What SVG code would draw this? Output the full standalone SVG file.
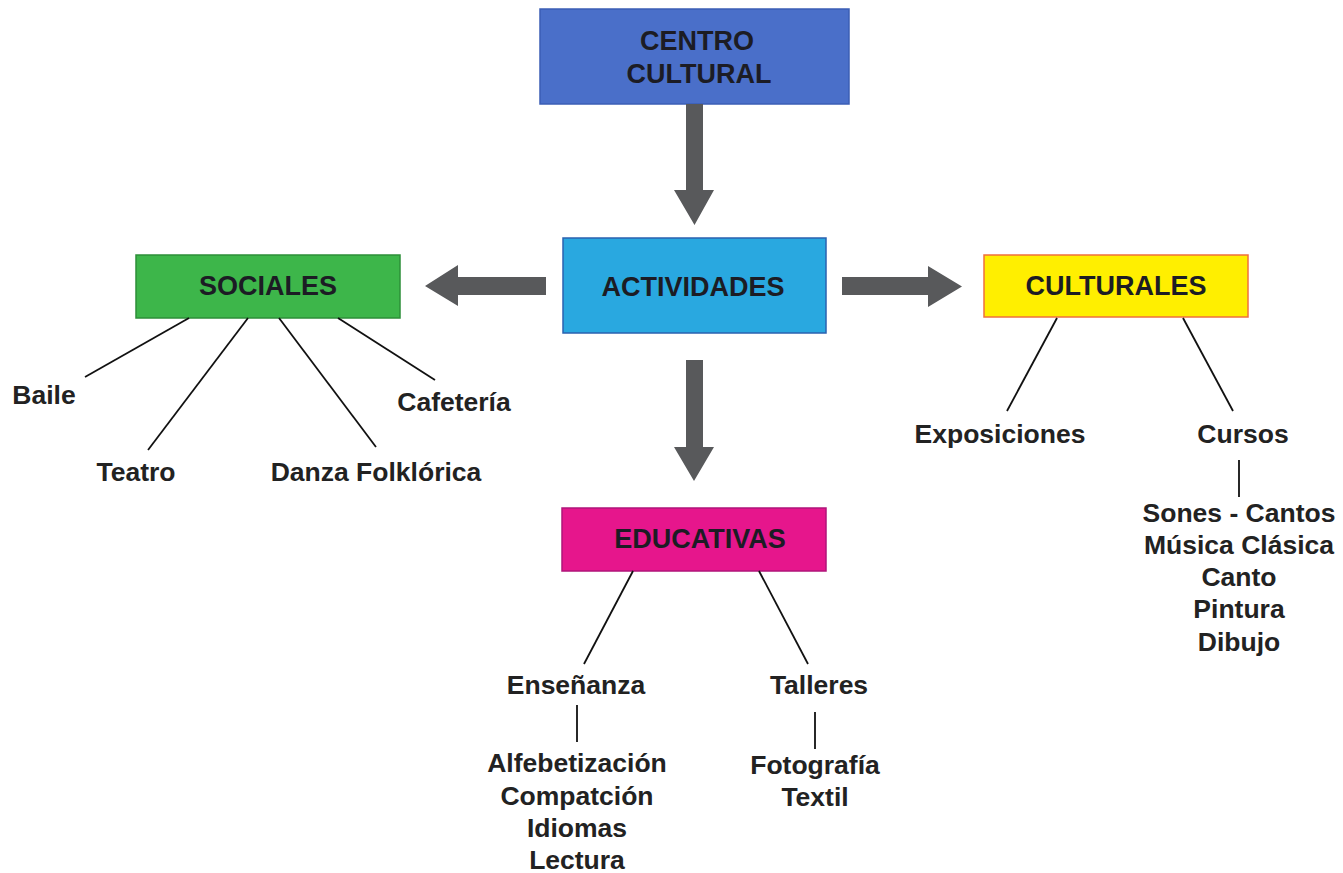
<svg xmlns="http://www.w3.org/2000/svg" width="1343" height="873" viewBox="0 0 1343 873">
  <defs>
    <style>
      .box { stroke-width: 1.5; }
      .title { font-family: Arial, "Liberation Sans", Helvetica, sans-serif; font-weight: 700; font-size: 27px; fill: #1c1c24; text-anchor: middle; }
      .lbl { font-family: Arial, "Liberation Sans", Helvetica, sans-serif; font-weight: 700; font-size: 26.5px; fill: #222; text-anchor: middle; }
      .thin { stroke: #111; stroke-width: 1.8; fill: none; }
      .big { fill: #58595b; }
    </style>
  </defs>
  <rect width="1343" height="873" fill="#ffffff"/>

  <!-- main nodes -->
  <g id="centro-cultural">
    <rect class="box" x="540" y="9" width="309" height="95" fill="#4a6fc9" stroke="#3b5eb5"/>
    <text class="title" x="697" y="50">CENTRO</text>
    <text class="title" x="699" y="83">CULTURAL</text>
  </g>
  <g id="actividades">
    <rect class="box" x="563" y="238" width="263" height="95" fill="#29a8e0" stroke="#2a62b0"/>
    <text class="title" x="693" y="296">ACTIVIDADES</text>
  </g>
  <g id="sociales">
    <rect class="box" x="136" y="255" width="264" height="63" fill="#3db64a" stroke="#2c8f38"/>
    <text class="title" x="268" y="295">SOCIALES</text>
  </g>
  <g id="culturales">
    <rect class="box" x="984" y="255" width="264" height="62" fill="#ffef00" stroke="#f0703c"/>
    <text class="title" x="1116" y="295">CULTURALES</text>
  </g>
  <g id="educativas">
    <rect class="box" x="562" y="508" width="264" height="63" fill="#e6168c" stroke="#b0157a"/>
    <text class="title" x="700" y="548">EDUCATIVAS</text>
  </g>

  <!-- block arrows and branch lines -->
  <g id="connectors">
    <polygon class="big" points="686,104 703,104 703,190 714,190 694.5,225 674,190 686,190"/>
    <polygon class="big" points="546,277 546,295 458,295 458,306 425,286 458,265 458,277"/>
    <polygon class="big" points="842,277 928,277 928,266 962,286.5 928,307 928,295 842,295"/>
    <polygon class="big" points="686,360 703,360 703,447 714,447 694,481 674,447 686,447"/>

    <line class="thin" x1="189" y1="318" x2="85" y2="377"/>
    <line class="thin" x1="248" y1="318" x2="148" y2="450"/>
    <line class="thin" x1="279" y1="318" x2="376" y2="447"/>
    <line class="thin" x1="338" y1="318" x2="435" y2="380"/>

    <line class="thin" x1="1057" y1="318" x2="1007" y2="411"/>
    <line class="thin" x1="1183" y1="318" x2="1233" y2="411"/>
    <line class="thin" x1="1239" y1="460" x2="1239" y2="497"/>

    <line class="thin" x1="633" y1="571" x2="584" y2="664"/>
    <line class="thin" x1="759" y1="571" x2="808" y2="664"/>
    <line class="thin" x1="577" y1="705" x2="577" y2="742"/>
    <line class="thin" x1="815" y1="712" x2="815" y2="749"/>
  </g>

  <!-- leaf labels -->
  <g id="sociales-items">
    <text class="lbl" x="44" y="404">Baile</text>
    <text class="lbl" x="136" y="481">Teatro</text>
    <text class="lbl" x="376" y="481">Danza Folklórica</text>
    <text class="lbl" x="454" y="411">Cafetería</text>
  </g>
  <g id="culturales-items">
    <text class="lbl" x="1000" y="443">Exposiciones</text>
    <text class="lbl" x="1243" y="443">Cursos</text>
    <text class="lbl" x="1239" y="522">Sones - Cantos</text>
    <text class="lbl" x="1239" y="554">Música Clásica</text>
    <text class="lbl" x="1239" y="586">Canto</text>
    <text class="lbl" x="1239" y="618">Pintura</text>
    <text class="lbl" x="1239" y="651">Dibujo</text>
  </g>
  <g id="educativas-items">
    <text class="lbl" x="576" y="694">Enseñanza</text>
    <text class="lbl" x="819" y="694">Talleres</text>
    <text class="lbl" x="577" y="772">Alfebetización</text>
    <text class="lbl" x="577" y="805">Compatción</text>
    <text class="lbl" x="577" y="837">Idiomas</text>
    <text class="lbl" x="577" y="869">Lectura</text>
    <text class="lbl" x="815" y="774">Fotografía</text>
    <text class="lbl" x="815" y="806">Textil</text>
  </g>
</svg>
